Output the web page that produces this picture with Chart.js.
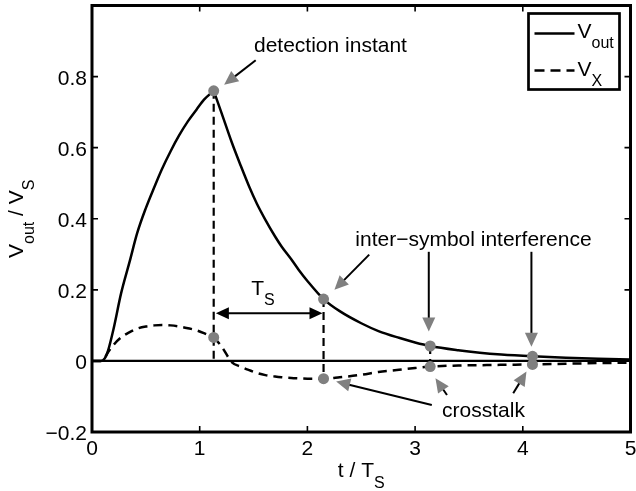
<!DOCTYPE html>
<html>
<head>
<meta charset="utf-8">
<script src="https://cdn.jsdelivr.net/npm/chart.js@4.4.0/dist/chart.umd.min.js"></script>
<style>
  html, body { margin: 0; padding: 0; background: #fff; }
  #c { display: block; }
</style>
</head>
<body>
<canvas id="c" width="636" height="491"></canvas>
<script>
// Normalised time t / T_S
const t = [0, 0.08, 0.12, 0.15, 0.2, 0.27, 0.35, 0.42, 0.5, 0.58, 0.65, 0.73, 0.81, 0.89, 0.97, 1.04, 1.13,
           1.2, 1.3, 1.38, 1.46, 1.53, 1.61, 1.7, 1.76, 1.85, 1.92, 2.0, 2.15, 2.3, 2.5, 2.66, 2.85, 3.0, 3.14,
           3.4, 3.6, 3.8, 4.09, 4.4, 4.7, 5.0];
// Victim output V_out / V_S
const vOut = [0, 0, 0.008, 0.03, 0.09, 0.19, 0.28, 0.36, 0.43, 0.49, 0.54, 0.59, 0.635, 0.674, 0.707, 0.735, 0.76,
              0.70, 0.613, 0.55, 0.49, 0.443, 0.397, 0.35, 0.322, 0.286, 0.256, 0.225, 0.174, 0.14, 0.106, 0.084, 0.065, 0.052, 0.042,
              0.030, 0.023, 0.018, 0.013, 0.009, 0.006, 0.004];
// Crosstalk on the neighbouring line V_X / V_S
const vX = [0, 0, 0.01, 0.025, 0.045, 0.066, 0.081, 0.091, 0.097, 0.1, 0.101, 0.1, 0.097, 0.092, 0.086, 0.078, 0.066,
            0.042, -0.004, -0.016, -0.026, -0.034, -0.040, -0.044, -0.046, -0.048, -0.049, -0.050, -0.050, -0.046, -0.039, -0.031, -0.025, -0.020, -0.016,
            -0.013, -0.012, -0.011, -0.010, -0.008, -0.006, -0.005];

// Sampling instants (one symbol period apart) and the sampled values
const sampleT = [1.13, 2.15, 3.14, 4.09];
const sampleOut = [0.76, 0.174, 0.042, 0.013];
const sampleX = [0.066, -0.05, -0.016, -0.010];
// Dashed drop lines: bottom end of each one
const dropBottom = [0, -0.05, -0.016];

const xTicks = [0, 1, 2, 3, 4, 5];
const xTickLabels = ['0', '1', '2', '3', '4', '5'];
const yTicks = [-0.2, 0, 0.2, 0.4, 0.6, 0.8];
const yTickLabels = ['\u22120.2', '0', '0.2', '0.4', '0.6', '0.8'];

// Annotation placement in data units
const notes = {
  detection: { text: 'detection instant', t: 1.504, v: 0.868, align: 'left',
               arrows: [[1.52, 0.846, 1.227, 0.777]] },
  isi: { text: 'inter\u2212symbol interference', t: 3.542, v: 0.322, align: 'center',
         arrows: [[2.574, 0.299, 2.251, 0.200], [3.127, 0.307, 3.127, 0.083], [4.08, 0.307, 4.08, 0.040]] },
  crosstalk: { text: 'crosstalk', t: 3.635, v: -0.158, align: 'center',
               arrows: [[3.155, -0.124, 2.267, -0.058], [3.296, -0.096, 3.189, -0.049], [3.911, -0.091, 4.034, -0.030]] },
  period: { t0: 1.15, t1: 2.14, v: 0.134, labelT: 1.587, labelV: 0.186 }
};

const FONT = '"Liberation Sans", Arial, Helvetica, sans-serif';
const MAIN = 21, SUB = 16, SUB_DROP = 10.5;
const GREY = '#808080';

function pts(xs, ys, from, to) {
  const out = [];
  for (let i = from; i <= to; i++) out.push({ x: xs[i], y: ys[i] });
  return out;
}
const peak = t.indexOf(sampleT[0]);
const last = t.length - 1;

function lineDs(data, dash) {
  return {
    type: 'line', data, borderColor: '#000', borderWidth: 2.5, borderDash: dash || [],
    pointRadius: 0, fill: false, cubicInterpolationMode: 'monotone', showLine: true
  };
}

const datasets = [
  { type: 'scatter', data: sampleT.map((x, i) => ({ x, y: sampleOut[i] })), pointRadius: 5.5,
    pointBackgroundColor: GREY, pointBorderColor: GREY, pointBorderWidth: 0, showLine: false },
  { type: 'scatter', data: sampleT.map((x, i) => ({ x, y: sampleX[i] })), pointRadius: 5.5,
    pointBackgroundColor: GREY, pointBorderColor: GREY, pointBorderWidth: 0, showLine: false },
  lineDs(pts(t, vOut, 0, peak)),
  lineDs(pts(t, vOut, peak, last)),
  lineDs(pts(t, vX, 0, peak), [9, 6]),
  lineDs(pts(t, vX, peak, last), [9, 6]),
  ...dropBottom.map((b, i) => ({
    type: 'line', data: [{ x: sampleT[i], y: sampleOut[i] }, { x: sampleT[i], y: b }],
    borderColor: '#000', borderWidth: 2.2, borderDash: [8, 5], pointRadius: 0, tension: 0
  })),
  { type: 'line', data: [{ x: 0, y: 0 }, { x: 5, y: 0 }], borderColor: '#000', borderWidth: 2.2,
    pointRadius: 0, tension: 0 }
];

// Text made of normal and subscript runs
function runsWidth(ctx, runs) {
  let w = 0;
  for (const [s, sub] of runs) { ctx.font = (sub ? SUB : MAIN) + 'px ' + FONT; w += ctx.measureText(s).width; }
  return w;
}
function drawRuns(ctx, runs, x, y, align) {
  let cx = x;
  const w = runsWidth(ctx, runs);
  if (align === 'center') cx = x - w / 2;
  else if (align === 'right') cx = x - w;
  ctx.textAlign = 'left';
  ctx.textBaseline = 'alphabetic';
  for (const [s, sub] of runs) {
    ctx.font = (sub ? SUB : MAIN) + 'px ' + FONT;
    ctx.fillText(s, cx, y + (sub ? SUB_DROP : 0));
    cx += ctx.measureText(s).width;
  }
}
function head(ctx, x0, y0, x1, y1, len, half, color) {
  const a = Math.atan2(y1 - y0, x1 - x0);
  ctx.fillStyle = color;
  ctx.beginPath();
  ctx.moveTo(x1, y1);
  ctx.lineTo(x1 - len * Math.cos(a) + half * Math.sin(a), y1 - len * Math.sin(a) - half * Math.cos(a));
  ctx.lineTo(x1 - len * Math.cos(a) - half * Math.sin(a), y1 - len * Math.sin(a) + half * Math.cos(a));
  ctx.closePath();
  ctx.fill();
}
function arrow(ctx, x0, y0, x1, y1, headColor) {
  const len = 14, half = 6.5;
  const a = Math.atan2(y1 - y0, x1 - x0);
  ctx.strokeStyle = '#000';
  ctx.lineWidth = 2;
  ctx.setLineDash([]);
  ctx.beginPath();
  ctx.moveTo(x0, y0);
  ctx.lineTo(x1 - len * 0.8 * Math.cos(a), y1 - len * 0.8 * Math.sin(a));
  ctx.stroke();
  head(ctx, x0, y0, x1, y1, len, half, headColor);
}

const decor = {
  id: 'decor',
  afterDraw(chart) {
    const ctx = chart.ctx, a = chart.chartArea;
    const sx = chart.scales.x, sy = chart.scales.y;
    const X = v => sx.getPixelForValue(v), Y = v => sy.getPixelForValue(v);
    ctx.save();
    ctx.fillStyle = '#000';
    ctx.strokeStyle = '#000';

    // Inward tick marks on all four sides
    ctx.lineWidth = 1.6;
    ctx.beginPath();
    xTicks.forEach(v => {
      const px = X(v);
      ctx.moveTo(px, a.bottom); ctx.lineTo(px, a.bottom - 6);
      ctx.moveTo(px, a.top); ctx.lineTo(px, a.top + 6);
    });
    yTicks.forEach(v => {
      const py = Y(v);
      ctx.moveTo(a.left, py); ctx.lineTo(a.left + 6, py);
      ctx.moveTo(a.right, py); ctx.lineTo(a.right - 6, py);
    });
    ctx.stroke();

    // Axes box
    ctx.lineWidth = 3;
    ctx.strokeRect(a.left, a.top, a.right - a.left, a.bottom - a.top);

    // Tick labels
    ctx.font = MAIN + 'px ' + FONT;
    ctx.textBaseline = 'alphabetic';
    ctx.textAlign = 'center';
    xTicks.forEach((v, i) => ctx.fillText(xTickLabels[i], X(v), a.bottom + 23));
    ctx.textAlign = 'right';
    yTicks.forEach((v, i) => ctx.fillText(yTickLabels[i], a.left - 5, Y(v) + 8));

    // Axis titles
    drawRuns(ctx, [['t / T', false], ['S', true]], (a.left + a.right) / 2, a.bottom + 45, 'center');
    ctx.save();
    ctx.translate(23, (a.top + a.bottom) / 2);
    ctx.rotate(-Math.PI / 2);
    drawRuns(ctx, [['V', false], ['out', true], [' / V', false], ['S', true]], 0, 0, 'center');
    ctx.restore();

    // Annotations
    ctx.fillStyle = '#000';
    for (const key of ['detection', 'isi', 'crosstalk']) {
      const n = notes[key];
      ctx.font = MAIN + 'px ' + FONT;
      ctx.textAlign = n.align;
      ctx.textBaseline = 'alphabetic';
      ctx.fillStyle = '#000';
      ctx.fillText(n.text, X(n.t), Y(n.v));
      n.arrows.forEach(r => arrow(ctx, X(r[0]), Y(r[1]), X(r[2]), Y(r[3]), GREY));
    }

    // Symbol period span
    const p = notes.period;
    const x0 = X(p.t0), x1 = X(p.t1), py = Y(p.v);
    ctx.lineWidth = 2;
    ctx.beginPath();
    ctx.moveTo(x0 + 10, py); ctx.lineTo(x1 - 10, py);
    ctx.stroke();
    head(ctx, x1, py, x0, py, 13, 6, '#000');
    head(ctx, x0, py, x1, py, 13, 6, '#000');
    ctx.fillStyle = '#000';
    drawRuns(ctx, [['T', false], ['S', true]], X(p.labelT), Y(p.labelV), 'center');

    // Legend
    const lx = a.right - 102, ly = a.top + 8, lw = 91, lh = 76;
    ctx.fillStyle = '#fff';
    ctx.fillRect(lx, ly, lw, lh);
    ctx.lineWidth = 2.7;
    ctx.strokeStyle = '#000';
    ctx.strokeRect(lx, ly, lw, lh);
    ctx.lineWidth = 2.5;
    ctx.beginPath();
    ctx.moveTo(lx + 6, ly + 20); ctx.lineTo(lx + 46, ly + 20);
    ctx.stroke();
    ctx.setLineDash([10, 6]);
    ctx.beginPath();
    ctx.moveTo(lx + 6, ly + 57); ctx.lineTo(lx + 46, ly + 57);
    ctx.stroke();
    ctx.setLineDash([]);
    ctx.fillStyle = '#000';
    drawRuns(ctx, [['V', false], ['out', true]], lx + 49, ly + 24, 'left');
    drawRuns(ctx, [['V', false], ['X', true]], lx + 49, ly + 62, 'left');

    ctx.restore();
  }
};

new Chart(document.getElementById('c'), {
  type: 'scatter',
  data: { datasets },
  options: {
    responsive: false,
    animation: false,
    devicePixelRatio: 1,
    layout: { padding: { left: 92, right: 2, top: 5, bottom: 59 } },
    scales: {
      x: { type: 'linear', min: 0, max: 5, display: false },
      y: { type: 'linear', min: -0.2, max: 1.0, display: false }
    },
    plugins: { legend: { display: false }, tooltip: { enabled: false } }
  },
  plugins: [decor]
});
</script>
</body>
</html>
